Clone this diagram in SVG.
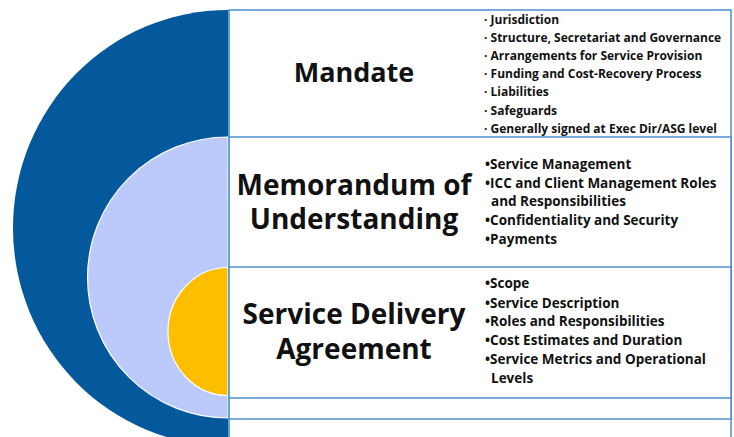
<svg xmlns="http://www.w3.org/2000/svg" width="734" height="437" viewBox="0 0 734 437">
<style>
.box{fill:#ffffff;stroke:#3f87cc;stroke-width:1.4}
.title{font-family:"Open Sans","Noto Sans",sans-serif;font-weight:700;fill:#111111;text-anchor:middle}
.bul{font-family:"Open Sans","Noto Sans",sans-serif;font-weight:700;font-size:12px;fill:#111111}
.bul2{font-family:"Open Sans","Noto Sans",sans-serif;font-weight:700;font-size:13.5px;fill:#111111}
</style>
<rect x="0" y="0" width="734" height="437" fill="#ffffff"/>
<g id="boxes">
<rect class="box" x="229" y="10" width="502" height="440"/>
<rect class="box" x="229" y="137" width="502" height="282"/>
<rect class="box" x="229" y="267" width="502" height="131"/>
</g>
<g id="circles">
<path d="M228,10 A215,218 0 0 0 228,446 Z" fill="#03599c"/>
<path d="M228,137 A140.5,140.5 0 0 0 228,418 Z" fill="#bccafb" stroke="#ffffff" stroke-width="1.2"/>
<path d="M228,267.5 A60,64 0 0 0 228,395.5 Z" fill="#fdbe00" stroke="#ffffff" stroke-width="1.2"/>
<rect x="228" y="10" width="1.4" height="427" fill="#5d9ed8"/>
</g>
<g id="mandate">
<text class="title" x="354" y="82" font-size="27">Mandate</text>
<text class="bul">
<tspan x="484" y="23.5">· Jurisdiction</tspan>
<tspan x="484" y="41.7">· Structure, Secretariat and Governance</tspan>
<tspan x="484" y="59.9">· Arrangements for Service Provision</tspan>
<tspan x="484" y="78.1">· Funding and Cost-Recovery Process</tspan>
<tspan x="484" y="96.3">· Liabilities</tspan>
<tspan x="484" y="114.5">· Safeguards</tspan>
<tspan x="484" y="132.7">· Generally signed at Exec Dir/ASG level</tspan>
</text>
</g>
<g id="mou">
<text class="title" x="354" y="195" font-size="28">Memorandum of</text>
<text class="title" x="354" y="229" font-size="28">Understanding</text>
<text class="bul2">
<tspan x="485" y="169">•Service Management</tspan>
<tspan x="485" y="187.5">•ICC and Client Management Roles</tspan>
<tspan x="491" y="205.5">and Responsibilities</tspan>
<tspan x="485" y="225">•Confidentiality and Security</tspan>
<tspan x="485" y="244">•Payments</tspan>
</text>
</g>
<g id="sda">
<text class="title" x="354" y="324" font-size="28">Service Delivery</text>
<text class="title" x="354" y="359" font-size="28">Agreement</text>
<text class="bul2">
<tspan x="485" y="288">•Scope</tspan>
<tspan x="485" y="307.5">•Service Description</tspan>
<tspan x="485" y="326">•Roles and Responsibilities</tspan>
<tspan x="485" y="345">•Cost Estimates and Duration</tspan>
<tspan x="485" y="364">•Service Metrics and Operational</tspan>
<tspan x="491" y="383">Levels</tspan>
</text>
</g>
</svg>
